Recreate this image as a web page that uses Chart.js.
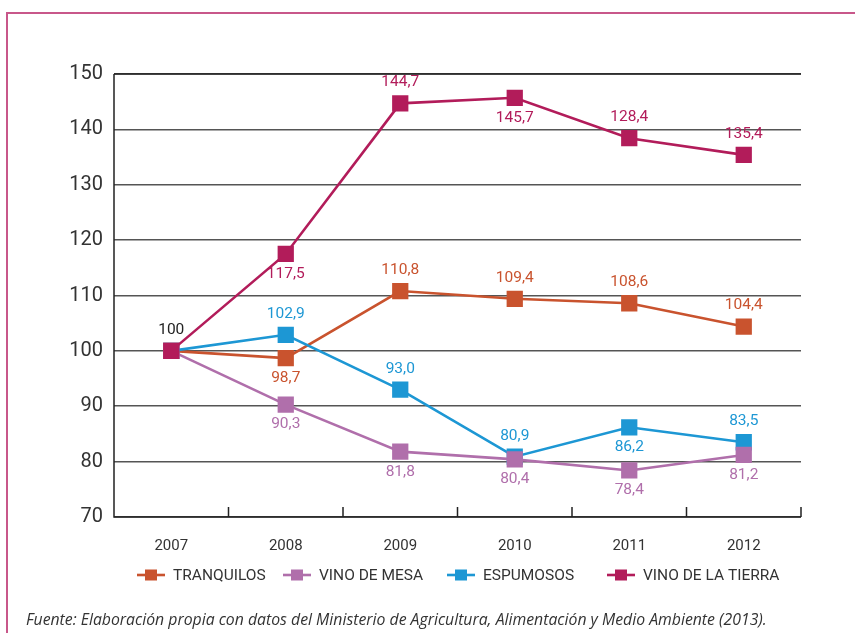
<!DOCTYPE html>
<html><head><meta charset="utf-8">
<script src="https://cdn.jsdelivr.net/npm/chart.js@4.4.1/dist/chart.umd.min.js"></script>
<style>
html,body{margin:0;padding:0;background:#fff;}
#wrap{position:relative;width:855px;height:633px;overflow:hidden;}
#frame{position:absolute;left:6px;top:12px;width:900px;height:700px;border-left:2px solid #c8578a;border-top:2px solid #c8578a;}
#c{position:absolute;left:0;top:0;}
#note{position:absolute;left:26px;top:609px;font-family:"Open Sans",sans-serif;font-style:italic;font-size:15.8px;line-height:20px;color:#333;white-space:nowrap;}
</style></head>
<body><div id="wrap"><div id="frame"></div><canvas id="c" width="855" height="633"></canvas>
<div id="note">Fuente: Elaboración propia con datos del Ministerio de Agricultura, Alimentación y Medio Ambiente (2013).</div></div>
<script>
const years = ['2007','2008','2009','2010','2011','2012'];
const seriesNames = ['TRANQUILOS','VINO DE MESA','ESPUMOSOS','VINO DE LA TIERRA'];
const tranquilos = [100, 98.7, 110.8, 109.4, 108.6, 104.4];
const vinoMesa = [100, 90.3, 81.8, 80.4, 78.4, 81.2];
const espumosos = [100, 102.9, 93.0, 80.9, 86.2, 83.5];
const vinoTierra = [100, 117.5, 144.7, 145.7, 138.4, 135.4];
const tranquilosLabels = ['', '98,7', '110,8', '109,4', '108,6', '104,4'];
const vinoMesaLabels = ['', '90,3', '81,8', '80,4', '78,4', '81,2'];
const espumososLabels = ['', '102,9', '93,0', '80,9', '86,2', '83,5'];
const vinoTierraLabels = ['100', '117,5', '144,7', '145,7', '128,4', '135,4'];
const tranquilosPos = ['', 'below', 'above', 'above', 'above', 'above'];
const vinoMesaPos = ['', 'below', 'below', 'below', 'below', 'below'];
const espumososPos = ['', 'above', 'above', 'above', 'below', 'above'];
const vinoTierraPos = ['above', 'below', 'above', 'below', 'above', 'above'];
const yTicks = [70, 80, 90, 100, 110, 120, 130, 140, 150];
const legendX = [137, 283, 447, 607];

const colors = ['#c9532e', '#b06fab', '#1d97d4', '#b21c5a'];
const FONT = 'Roboto, "Open Sans", sans-serif';

function ds(name, data, labels, pos, color, order, labelColors) {
  return {label: name, data, labels, pos, labelColors, borderColor: color, backgroundColor: color,
    pointBackgroundColor: color, pointBorderColor: color, pointStyle: 'rect', pointRadius: 11.5,
    pointHoverRadius: 11.5, pointBorderWidth: 0, borderWidth: 2.6, tension: 0, order, fill: false};
}

const dataLabels = {
  id: 'dataLabels',
  afterDatasetsDraw(chart) {
    const ctx = chart.ctx;
    ctx.save();
    ctx.font = '15.5px ' + FONT;
    ctx.textAlign = 'center';
    ctx.textBaseline = 'middle';
    chart.data.datasets.forEach((d, i) => {
      const meta = chart.getDatasetMeta(i);
      meta.data.forEach((pt, j) => {
        const t = d.labels[j];
        if (!t) return;
        const dy = d.pos[j] === 'above' ? -21 : 20;
        ctx.fillStyle = (d.labelColors && d.labelColors[j]) || d.borderColor;
        ctx.fillText(t, pt.x, pt.y + dy);
      });
    });
    ctx.restore();
  }
};

const axisTicks = {
  id: 'axisTicks',
  afterDraw(chart) {
    const ctx = chart.ctx, x = chart.scales.x, a = chart.chartArea;
    ctx.save();
    ctx.strokeStyle = '#222';
    ctx.lineWidth = 1.5;
    const half = (x.getPixelForValue(1) - x.getPixelForValue(0)) / 2;
    ctx.beginPath();
    for (let i = 0; i < years.length; i++) {
      const px = x.getPixelForValue(i) + half;
      ctx.moveTo(px, a.bottom);
      ctx.lineTo(px, a.bottom - 10);
    }
    ctx.stroke();
    ctx.beginPath();
    ctx.moveTo(a.left, a.top); ctx.lineTo(a.left, a.bottom); ctx.lineTo(a.right, a.bottom);
    ctx.stroke();
    ctx.beginPath();
    ctx.moveTo(a.left, a.top); ctx.lineTo(a.right, a.top);
    ctx.stroke();
    ctx.restore();
  }
};

const legendPlugin = {
  id: 'customLegend',
  afterDraw(chart) {
    const ctx = chart.ctx;
    ctx.save();
    ctx.font = '15.5px ' + FONT;
    ctx.textBaseline = 'middle';
    const y = 575, lineW = 28;
    seriesNames.forEach((n, i) => {
      const x = legendX[i], c = colors[i];
      ctx.strokeStyle = c; ctx.lineWidth = 2.6;
      ctx.beginPath(); ctx.moveTo(x, y); ctx.lineTo(x + lineW, y); ctx.stroke();
      ctx.fillStyle = c; ctx.fillRect(x + lineW / 2 - 6, y - 5.5, 12, 11);
      ctx.fillStyle = '#333';
      ctx.fillText(n, x + 36, y + 1);
    });
    ctx.restore();
  }
};

new Chart(document.getElementById('c'), {
  type: 'line',
  data: {
    labels: years,
    datasets: [
      ds(seriesNames[0], tranquilos, tranquilosLabels, tranquilosPos, colors[0], 3),
      ds(seriesNames[1], vinoMesa, vinoMesaLabels, vinoMesaPos, colors[1], 1),
      ds(seriesNames[2], espumosos, espumososLabels, espumososPos, colors[2], 2),
      ds(seriesNames[3], vinoTierra, vinoTierraLabels, vinoTierraPos, colors[3], 0, ['#222'])
    ]
  },
  options: {
    responsive: false,
    animation: false,
    layout: {padding: {left: 0, top: 74, right: 54, bottom: 0}},
    plugins: {legend: {display: false}, tooltip: {enabled: false}},
    scales: {
      x: {
        offset: true,
        grid: {display: false},
        border: {display: false},
        ticks: {color: '#333', font: {family: FONT, size: 15}, padding: 12},
        afterFit(s) { s.height = 116; }
      },
      y: {
        min: 70, max: 150,
        afterBuildTicks(s) { s.ticks = yTicks.map(v => ({value: v})); },
        grid: {color: '#555', lineWidth: 1.6, drawTicks: false},
        border: {display: false},
        ticks: {color: '#333', font: {family: FONT, size: 20}, padding: 11},
        afterFit(s) { s.width = 114; }
      }
    }
  },
  plugins: [dataLabels, axisTicks, legendPlugin]
});
</script></body></html>
